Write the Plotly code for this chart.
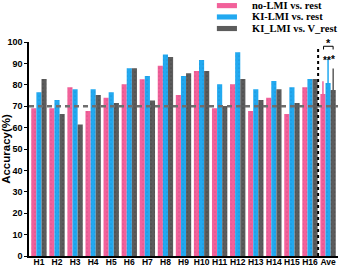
import plotly.graph_objects as go

categories = ["H1", "H2", "H3", "H4", "H5", "H6", "H7", "H8", "H9", "H10",
              "H11", "H12", "H13", "H14", "H15", "H16", "Ave"]
no_lmi = [69.0, 69.0, 78.8, 67.8, 74.0, 80.2, 82.6, 88.9, 75.2, 86.4,
          69.0, 80.2, 67.8, 74.0, 66.4, 78.8, 75.7]
ki_lmi = [76.5, 72.9, 77.9, 77.9, 76.5, 87.7, 84.1, 94.2, 84.1, 91.6,
          80.2, 95.2, 77.9, 81.8, 78.8, 82.7, 80.8]
ki_v = [82.7, 66.4, 61.5, 75.2, 71.5, 87.7, 72.7, 93.0, 85.4, 86.4,
        70.1, 82.7, 72.9, 77.9, 71.5, 82.7, 77.6]
err_no_lmi = [0] * 16 + [6.0]
err_ki_lmi = [0] * 16 + [11.5]
err_ki_v = [0] * 16 + [10.0]
series_names = ["no-LMI vs. rest", "KI-LMI vs. rest", "KI_LMI vs. V_rest"]
chance_level = 70
y_ticks = [0, 10, 20, 30, 40, 50, 60, 70, 80, 90, 100]

colors = ["#F2619A", "#22A9F0", "#5C5C5C"]
dots = ["#C84A7C", "#1A86C8", "#3A3A3A"]

fig = go.Figure()
for vals, errs, name, c, d in zip([no_lmi, ki_lmi, ki_v],
                                  [err_no_lmi, err_ki_lmi, err_ki_v],
                                  series_names, colors, dots):
    fig.add_trace(go.Bar(
        x=list(range(len(categories))), y=vals, name=name,
        marker=dict(color=c, line=dict(width=0),
                    pattern=dict(shape=".", fgcolor=d, size=4, solidity=0.15)),
        error_y=dict(type="data", array=errs, visible=True, color=c,
                     thickness=1.5, width=0),
        showlegend=False,
    ))

# chance level dashed line
fig.add_shape(type="line", xref="paper", yref="y", x0=0, x1=1,
              y0=chance_level, y1=chance_level,
              line=dict(color="#6E6E6E", width=2.5, dash="5px,4px"), layer="above")
# dotted separator before Ave
fig.add_shape(type="line", xref="x", yref="y", x0=15.45, x1=15.45, y0=0, y1=98,
              line=dict(color="black", width=2, dash="dot"), layer="above")
# significance brackets
fig.add_shape(type="path", xref="x", yref="y",
              path="M 15.75 96.5 L 15.75 98 L 16.28 98 L 16.28 96.5",
              line=dict(color="black", width=1))
fig.add_annotation(x=16.0, y=99.5, xref="x", yref="y", text="*", showarrow=False,
                   font=dict(size=11, color="black", family="Liberation Sans", weight="bold"))
fig.add_annotation(x=15.92, y=91.5, xref="x", yref="y", text="**", showarrow=False,
                   font=dict(size=10, color="black", family="Liberation Sans", weight="bold"))
fig.add_annotation(x=16.3, y=92, xref="x", yref="y", text="*", showarrow=False,
                   font=dict(size=10, color="black", family="Liberation Sans", weight="bold"))

# manual legend
ly = [1.170, 1.117, 1.063]
for name, c, yy in zip(series_names, colors, ly):
    fig.add_shape(type="rect", xref="paper", yref="paper",
                  x0=0.608, x1=0.673, y0=yy - 0.012, y1=yy + 0.012,
                  fillcolor=c, line=dict(width=0))
    fig.add_annotation(x=0.715, y=yy, xref="paper", yref="paper", text=name,
                       showarrow=False, xanchor="left", yanchor="middle",
                       font=dict(family="Liberation Serif", size=10.5, color="black",
                                 weight="bold"))

fig.update_layout(
    width=338, height=268,
    margin=dict(l=29, r=0, t=42, b=12, autoexpand=False),
    paper_bgcolor="white", plot_bgcolor="white",
    barmode="group", bargap=0.15, bargroupgap=0,
)
fig.update_xaxes(
    range=[-0.55, 16.55], tickmode="array", automargin=False, tickangle=0,
    tickvals=list(range(len(categories))), ticktext=categories,
    showline=True, linecolor="black", linewidth=1.5, showgrid=False, ticks="",
    tickfont=dict(family="Liberation Sans", size=8.5, color="black", weight="bold"),
    ticklabelstandoff=-3,
)
fig.update_yaxes(
    range=[0, 100], tickvals=y_ticks, showline=True, linecolor="black",
    automargin=False,
    linewidth=1.5, showgrid=False, zeroline=False, ticks="outside", ticklen=3,
    tickwidth=1.2, tickcolor="black",
    tickfont=dict(family="Liberation Sans", size=9, color="black", weight="bold"),
    title=dict(text="Accuracy(%)", standoff=4,
               font=dict(family="Liberation Sans", size=11.5, color="black",
                         weight="bold")),
)

fig.write_html("out.html", config={"displayModeBar": False},
               post_script="document.body.style.margin='0px';document.body.style.overflow='hidden';")
